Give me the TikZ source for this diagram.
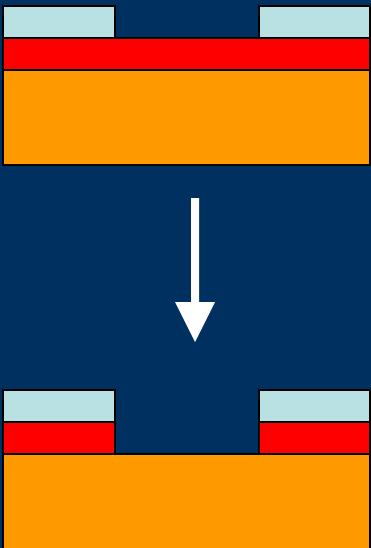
\documentclass[tikz,border=0pt]{standalone}
\definecolor{bg}{RGB}{0,48,96}
\definecolor{lb}{RGB}{185,224,227}
\definecolor{rd}{RGB}{255,0,0}
\definecolor{og}{RGB}{255,153,0}
\begin{document}
\begin{tikzpicture}[x=1pt,y=-1pt,
  layer/.style={draw=black,line width=2pt}]
\clip (0,0) rectangle (371,548);
\fill[bg] (0,0) rectangle (371,548);
% top stack
\draw[layer,fill=og] (3,70) rectangle (370,165);
\draw[layer,fill=rd] (3,38) rectangle (370,70);
\draw[layer,fill=lb] (3,6) rectangle (115,38);
\draw[layer,fill=lb] (259,6) rectangle (370,38);
% arrow
\fill[white] (191,198) -- (199,198) -- (199,302) -- (215,302) -- (195,342) -- (175,302) -- (191,302) -- cycle;
% bottom stack
\draw[layer,fill=og] (3,454) rectangle (370,552);
\draw[layer,fill=rd] (3,422) rectangle (115,454);
\draw[layer,fill=lb] (3,390) rectangle (115,422);
\draw[layer,fill=rd] (259,422) rectangle (370,454);
\draw[layer,fill=lb] (259,390) rectangle (370,422);
\end{tikzpicture}
\end{document}
